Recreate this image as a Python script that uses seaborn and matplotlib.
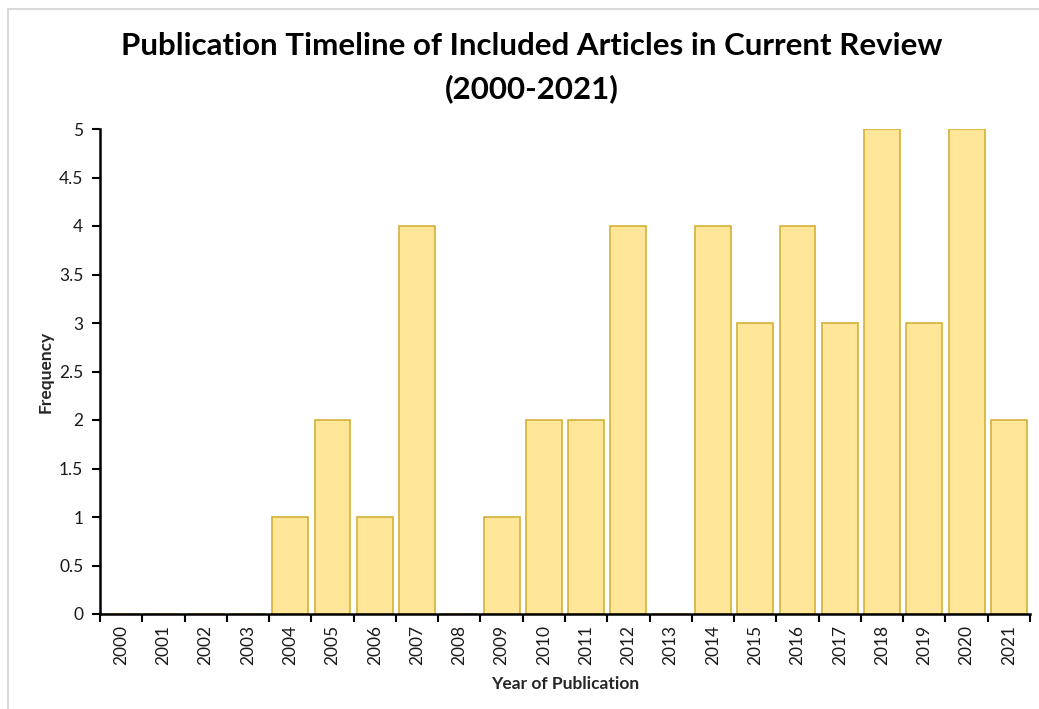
import matplotlib
matplotlib.use("Agg")
import matplotlib.pyplot as plt
from matplotlib.patches import Rectangle
from matplotlib.ticker import FixedLocator
import pandas as pd
import seaborn as sns

years = [str(y) for y in range(2000, 2022)]
counts = [0, 0, 0, 0, 1, 2, 1, 4, 0, 1, 2, 2, 4, 0, 4, 3, 4, 3, 5, 3, 5, 2]
y_ticks = [0, 0.5, 1, 1.5, 2, 2.5, 3, 3.5, 4, 4.5, 5]

sns.set_theme(style="white")
plt.rcParams["font.family"] = ["Lato", "DejaVu Sans"]

df = pd.DataFrame({"year": years, "count": counts})

fig = plt.figure(figsize=(10.39, 7.09), dpi=100)
ax = fig.add_axes([100 / 1039, 1 - 614 / 709, 930 / 1039, 485 / 709])

sns.barplot(data=df, x="year", y="count", order=years, ax=ax,
            color="#FFE699", edgecolor="#D4B03A", linewidth=1.2,
            width=0.85, saturation=1)

ax.set_ylim(0, 5)
ax.set_xlim(-0.5, len(years) - 0.5)
ax.set_yticks(y_ticks)
ax.set_yticklabels([f"{v:g}" for v in y_ticks], fontsize=12.5, color="#1a1a1a")
ax.set_xticklabels(years, rotation=90, fontsize=12.5, color="#1a1a1a")

# category boundary ticks on the x axis, labels centred under each bar
ax.xaxis.set_minor_locator(FixedLocator([i - 0.5 for i in range(len(years) + 1)]))
ax.tick_params(axis="x", which="major", length=0, pad=8)
ax.tick_params(axis="x", which="minor", bottom=True, length=6, width=1.5, color="black", direction="out")
ax.tick_params(axis="y", which="major", left=True, length=6, width=1.5, color="black", direction="out", pad=6)

for side in ("top", "right"):
    ax.spines[side].set_visible(False)
for side in ("left", "bottom"):
    ax.spines[side].set_color("black")
    ax.spines[side].set_linewidth(1.8)

ax.set_xlabel("Year of Publication", fontsize=12.5, fontweight="bold", labelpad=8)
ax.set_ylabel("Frequency", fontsize=12.5, fontweight="bold", labelpad=4)

fig.text(532 / 1039, 1 - 46 / 709, "Publication Timeline of Included Articles in Current Review",
         ha="center", va="center", fontsize=22.5, fontweight="bold", color="black")
fig.text(532 / 1039, 1 - 89 / 709, "(2000-2021)",
         ha="center", va="center", fontsize=22.5, fontweight="bold", color="black")

# light frame around the chart area
fig.patches.append(Rectangle((8 / 1039, -0.05), 1.1, 1 - 9 / 709 + 0.05,
                             transform=fig.transFigure, fill=False,
                             edgecolor="#D9D9D9", linewidth=1.5))

fig.savefig("out.png", dpi=100)
